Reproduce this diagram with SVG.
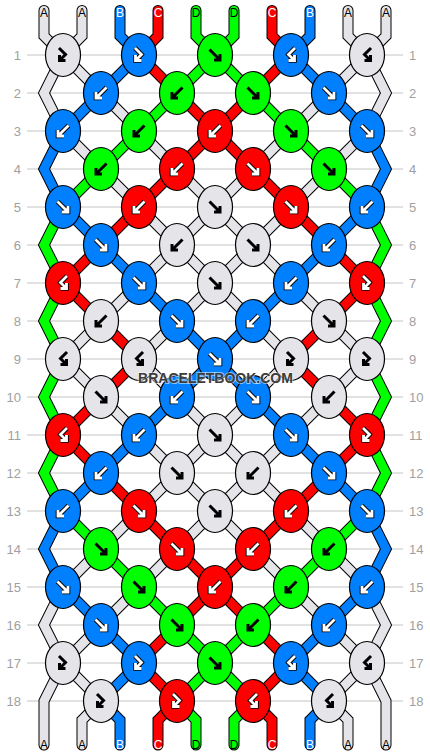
<svg xmlns="http://www.w3.org/2000/svg" width="430" height="756" viewBox="0 0 430 756">
<style>
.rows{stroke:#c4c4c4;stroke-width:1;fill:none}
.rl{font-family:"Liberation Sans",Arial,sans-serif;font-size:13px;fill:#a0a0a0}
.rl.l{text-anchor:end}
.sl{font-family:"Liberation Sans",Arial,sans-serif;font-size:12px;text-anchor:middle}
.dk{fill:#000}.lt{fill:#fff}
.k{stroke:#000;stroke-width:1.2}
.kA{fill:#e5e4e9}.kB{fill:#0080ff}.kC{fill:#ff0000}.kD{fill:#00ff00}
.wm{font-family:"Liberation Sans",Arial,sans-serif;font-weight:bold;font-size:14px;fill:#3c3c3c;text-anchor:middle;stroke:#ffffff;stroke-opacity:0.55;stroke-width:2;paint-order:stroke}
</style>
<defs>
<path id="pf" fill="none" d="M-5.5,-5.5L3.5,3.5M5,-1V5H-1"/>
<path id="pb" fill="none" d="M5.5,-5.5L-3.5,3.5M-5,-1V5H1"/>
<path id="pfb" fill="none" d="M-4,-7L2.5,-0.5L-2.5,4.5M-3.5,0V5.5H2.5"/>
<path id="pbf" fill="none" d="M4,-7L-2.5,-0.5L2.5,4.5M3.5,0V5.5H-2.5"/>
<g id="kf"><use href="#pf" stroke="#000" stroke-width="3"/></g>
<g id="kb"><use href="#pb" stroke="#000" stroke-width="3"/></g>
<g id="kfb"><use href="#pfb" stroke="#000" stroke-width="3"/></g>
<g id="kbf"><use href="#pbf" stroke="#000" stroke-width="3"/></g>
<g id="wf"><use href="#pf" stroke="#000" stroke-width="4.6"/><use href="#pf" stroke="#fff" stroke-width="2.8"/></g>
<g id="wb"><use href="#pb" stroke="#000" stroke-width="4.6"/><use href="#pb" stroke="#fff" stroke-width="2.8"/></g>
<g id="wfb"><use href="#pfb" stroke="#000" stroke-width="4.6"/><use href="#pfb" stroke="#fff" stroke-width="2.8"/></g>
<g id="wbf"><use href="#pbf" stroke="#000" stroke-width="4.6"/><use href="#pbf" stroke="#fff" stroke-width="2.8"/></g>
</defs>
<rect width="430" height="756" fill="#fff"/>
<path class="rows" d="M27,55H403M27,93H403M27,131H403M27,169H403M27,207H403M27,245H403M27,283H403M27,321H403M27,359H403M27,397H403M27,435H403M27,473H403M27,511H403M27,549H403M27,587H403M27,625H403M27,663H403M27,701H403"/>
<g id="row-labels">
<text class="rl l" x="21" y="60">1</text><text class="rl" x="409" y="60">1</text>
<text class="rl l" x="21" y="98">2</text><text class="rl" x="409" y="98">2</text>
<text class="rl l" x="21" y="136">3</text><text class="rl" x="409" y="136">3</text>
<text class="rl l" x="21" y="174">4</text><text class="rl" x="409" y="174">4</text>
<text class="rl l" x="21" y="212">5</text><text class="rl" x="409" y="212">5</text>
<text class="rl l" x="21" y="250">6</text><text class="rl" x="409" y="250">6</text>
<text class="rl l" x="21" y="288">7</text><text class="rl" x="409" y="288">7</text>
<text class="rl l" x="21" y="326">8</text><text class="rl" x="409" y="326">8</text>
<text class="rl l" x="21" y="364">9</text><text class="rl" x="409" y="364">9</text>
<text class="rl l" x="21" y="402">10</text><text class="rl" x="409" y="402">10</text>
<text class="rl l" x="21" y="440">11</text><text class="rl" x="409" y="440">11</text>
<text class="rl l" x="21" y="478">12</text><text class="rl" x="409" y="478">12</text>
<text class="rl l" x="21" y="516">13</text><text class="rl" x="409" y="516">13</text>
<text class="rl l" x="21" y="554">14</text><text class="rl" x="409" y="554">14</text>
<text class="rl l" x="21" y="592">15</text><text class="rl" x="409" y="592">15</text>
<text class="rl l" x="21" y="630">16</text><text class="rl" x="409" y="630">16</text>
<text class="rl l" x="21" y="668">17</text><text class="rl" x="409" y="668">17</text>
<text class="rl l" x="21" y="706">18</text><text class="rl" x="409" y="706">18</text>
</g>
<g id="connectors" fill="none" stroke-linecap="round" stroke-linejoin="miter" stroke-miterlimit="10">
<g stroke="#000" stroke-width="11">
<use href="#s0"/><use href="#s1"/><use href="#s2"/><use href="#s3"/><use href="#s4"/><use href="#s5"/><use href="#s6"/><use href="#s7"/><use href="#s8"/><use href="#s9"/>
</g>
<g stroke-width="9">
<g stroke="#e5e4e9">
<path id="s0" d="M44,10.5V36L63,55L44,93L63,131L101,169L139,207L177,245L215,283L253,321L291,359L253,397L215,435L177,473L139,511L101,549L63,587L44,625L63,663L44,701V745"/>
<path id="s1" d="M82,10.5V36L63,55L101,93L139,131L177,169L215,207L253,245L291,283L329,321L367,359L329,397L291,435L253,473L215,511L177,549L139,587L101,625L63,663L101,701L82,720V745"/>
<path id="s8" d="M348,10.5V36L367,55L329,93L291,131L253,169L215,207L177,245L139,283L101,321L63,359L101,397L139,435L177,473L215,511L253,549L291,587L329,625L367,663L329,701L348,720V745"/>
<path id="s9" d="M386,10.5V36L367,55L386,93L367,131L329,169L291,207L253,245L215,283L177,321L139,359L177,397L215,435L253,473L291,511L329,549L367,587L386,625L367,663L386,701V745"/>
</g>
<g stroke="#0080ff">
<path id="s2" d="M120,10.5V36L139,55L101,93L63,131L44,169L63,207L101,245L139,283L177,321L215,359L253,397L291,435L329,473L367,511L386,549L367,587L329,625L291,663L329,701L310,720V745"/>
<path id="s7" d="M310,10.5V36L291,55L329,93L367,131L386,169L367,207L329,245L291,283L253,321L215,359L177,397L139,435L101,473L63,511L44,549L63,587L101,625L139,663L101,701L120,720V745"/>
</g>
<g stroke="#ff0000">
<path id="s3" d="M158,10.5V36L139,55L177,93L215,131L253,169L291,207L329,245L367,283L329,321L291,359L329,397L367,435L329,473L291,511L253,549L215,587L177,625L139,663L177,701L158,720V745"/>
<path id="s6" d="M272,10.5V36L291,55L253,93L215,131L177,169L139,207L101,245L63,283L101,321L139,359L101,397L63,435L101,473L139,511L177,549L215,587L253,625L291,663L253,701L272,720V745"/>
</g>
<g stroke="#00ff00">
<path id="s4" d="M196,10.5V36L215,55L253,93L291,131L329,169L367,207L386,245L367,283L386,321L367,359L386,397L367,435L386,473L367,511L329,549L291,587L253,625L215,663L177,701L196,720V745"/>
<path id="s5" d="M234,10.5V36L215,55L177,93L139,131L101,169L63,207L44,245L63,283L44,321L63,359L44,397L63,435L44,473L63,511L101,549L139,587L177,625L215,663L253,701L234,720V745"/>
</g>
</g>
</g>
<g id="string-labels">
<text class="sl dk" x="44" y="16.7">A</text><text class="sl dk" x="82" y="16.7">A</text><text class="sl lt" x="120" y="16.7">B</text><text class="sl lt" x="158" y="16.7">C</text><text class="sl dk" x="196" y="16.7">D</text><text class="sl dk" x="234" y="16.7">D</text><text class="sl lt" x="272" y="16.7">C</text><text class="sl lt" x="310" y="16.7">B</text><text class="sl dk" x="348" y="16.7">A</text><text class="sl dk" x="386" y="16.7">A</text>
<text class="sl dk" x="44" y="748.6">A</text><text class="sl dk" x="82" y="748.6">A</text><text class="sl lt" x="120" y="748.6">B</text><text class="sl lt" x="158" y="748.6">C</text><text class="sl dk" x="196" y="748.6">D</text><text class="sl dk" x="234" y="748.6">D</text><text class="sl lt" x="272" y="748.6">C</text><text class="sl lt" x="310" y="748.6">B</text><text class="sl dk" x="348" y="748.6">A</text><text class="sl dk" x="386" y="748.6">A</text>
</g>
<g id="knots">
<g id="k1-1" transform="translate(63,55)"><ellipse class="k kA" rx="17.5" ry="21.5"/><use href="#kfb"/></g>
<g id="k1-2" transform="translate(139,55)"><ellipse class="k kB" rx="17.5" ry="21.5"/><use href="#wfb"/></g>
<g id="k1-3" transform="translate(215,55)"><ellipse class="k kD" rx="17.5" ry="21.5"/><use href="#kf"/></g>
<g id="k1-4" transform="translate(291,55)"><ellipse class="k kB" rx="17.5" ry="21.5"/><use href="#wbf"/></g>
<g id="k1-5" transform="translate(367,55)"><ellipse class="k kA" rx="17.5" ry="21.5"/><use href="#kbf"/></g>
<g id="k2-1" transform="translate(101,93)"><ellipse class="k kB" rx="17.5" ry="21.5"/><use href="#wb"/></g>
<g id="k2-2" transform="translate(177,93)"><ellipse class="k kD" rx="17.5" ry="21.5"/><use href="#kb"/></g>
<g id="k2-3" transform="translate(253,93)"><ellipse class="k kD" rx="17.5" ry="21.5"/><use href="#kf"/></g>
<g id="k2-4" transform="translate(329,93)"><ellipse class="k kB" rx="17.5" ry="21.5"/><use href="#wf"/></g>
<g id="k3-1" transform="translate(63,131)"><ellipse class="k kB" rx="17.5" ry="21.5"/><use href="#wb"/></g>
<g id="k3-2" transform="translate(139,131)"><ellipse class="k kD" rx="17.5" ry="21.5"/><use href="#kb"/></g>
<g id="k3-3" transform="translate(215,131)"><ellipse class="k kC" rx="17.5" ry="21.5"/><use href="#wb"/></g>
<g id="k3-4" transform="translate(291,131)"><ellipse class="k kD" rx="17.5" ry="21.5"/><use href="#kf"/></g>
<g id="k3-5" transform="translate(367,131)"><ellipse class="k kB" rx="17.5" ry="21.5"/><use href="#wf"/></g>
<g id="k4-1" transform="translate(101,169)"><ellipse class="k kD" rx="17.5" ry="21.5"/><use href="#kb"/></g>
<g id="k4-2" transform="translate(177,169)"><ellipse class="k kC" rx="17.5" ry="21.5"/><use href="#wb"/></g>
<g id="k4-3" transform="translate(253,169)"><ellipse class="k kC" rx="17.5" ry="21.5"/><use href="#wf"/></g>
<g id="k4-4" transform="translate(329,169)"><ellipse class="k kD" rx="17.5" ry="21.5"/><use href="#kf"/></g>
<g id="k5-1" transform="translate(63,207)"><ellipse class="k kB" rx="17.5" ry="21.5"/><use href="#wf"/></g>
<g id="k5-2" transform="translate(139,207)"><ellipse class="k kC" rx="17.5" ry="21.5"/><use href="#wb"/></g>
<g id="k5-3" transform="translate(215,207)"><ellipse class="k kA" rx="17.5" ry="21.5"/><use href="#kf"/></g>
<g id="k5-4" transform="translate(291,207)"><ellipse class="k kC" rx="17.5" ry="21.5"/><use href="#wf"/></g>
<g id="k5-5" transform="translate(367,207)"><ellipse class="k kB" rx="17.5" ry="21.5"/><use href="#wb"/></g>
<g id="k6-1" transform="translate(101,245)"><ellipse class="k kB" rx="17.5" ry="21.5"/><use href="#wf"/></g>
<g id="k6-2" transform="translate(177,245)"><ellipse class="k kA" rx="17.5" ry="21.5"/><use href="#kb"/></g>
<g id="k6-3" transform="translate(253,245)"><ellipse class="k kA" rx="17.5" ry="21.5"/><use href="#kf"/></g>
<g id="k6-4" transform="translate(329,245)"><ellipse class="k kB" rx="17.5" ry="21.5"/><use href="#wb"/></g>
<g id="k7-1" transform="translate(63,283)"><ellipse class="k kC" rx="17.5" ry="21.5"/><use href="#wbf"/></g>
<g id="k7-2" transform="translate(139,283)"><ellipse class="k kB" rx="17.5" ry="21.5"/><use href="#wf"/></g>
<g id="k7-3" transform="translate(215,283)"><ellipse class="k kA" rx="17.5" ry="21.5"/><use href="#kf"/></g>
<g id="k7-4" transform="translate(291,283)"><ellipse class="k kB" rx="17.5" ry="21.5"/><use href="#wb"/></g>
<g id="k7-5" transform="translate(367,283)"><ellipse class="k kC" rx="17.5" ry="21.5"/><use href="#wfb"/></g>
<g id="k8-1" transform="translate(101,321)"><ellipse class="k kA" rx="17.5" ry="21.5"/><use href="#kb"/></g>
<g id="k8-2" transform="translate(177,321)"><ellipse class="k kB" rx="17.5" ry="21.5"/><use href="#wf"/></g>
<g id="k8-3" transform="translate(253,321)"><ellipse class="k kB" rx="17.5" ry="21.5"/><use href="#wb"/></g>
<g id="k8-4" transform="translate(329,321)"><ellipse class="k kA" rx="17.5" ry="21.5"/><use href="#kf"/></g>
<g id="k9-1" transform="translate(63,359)"><ellipse class="k kA" rx="17.5" ry="21.5"/><use href="#kbf"/></g>
<g id="k9-2" transform="translate(139,359)"><ellipse class="k kA" rx="17.5" ry="21.5"/><use href="#kbf"/></g>
<g id="k9-3" transform="translate(215,359)"><ellipse class="k kB" rx="17.5" ry="21.5"/><use href="#wf"/></g>
<g id="k9-4" transform="translate(291,359)"><ellipse class="k kA" rx="17.5" ry="21.5"/><use href="#kfb"/></g>
<g id="k9-5" transform="translate(367,359)"><ellipse class="k kA" rx="17.5" ry="21.5"/><use href="#kfb"/></g>
<g id="k10-1" transform="translate(101,397)"><ellipse class="k kA" rx="17.5" ry="21.5"/><use href="#kf"/></g>
<g id="k10-2" transform="translate(177,397)"><ellipse class="k kB" rx="17.5" ry="21.5"/><use href="#wb"/></g>
<g id="k10-3" transform="translate(253,397)"><ellipse class="k kB" rx="17.5" ry="21.5"/><use href="#wf"/></g>
<g id="k10-4" transform="translate(329,397)"><ellipse class="k kA" rx="17.5" ry="21.5"/><use href="#kb"/></g>
<g id="k11-1" transform="translate(63,435)"><ellipse class="k kC" rx="17.5" ry="21.5"/><use href="#wbf"/></g>
<g id="k11-2" transform="translate(139,435)"><ellipse class="k kB" rx="17.5" ry="21.5"/><use href="#wb"/></g>
<g id="k11-3" transform="translate(215,435)"><ellipse class="k kA" rx="17.5" ry="21.5"/><use href="#kf"/></g>
<g id="k11-4" transform="translate(291,435)"><ellipse class="k kB" rx="17.5" ry="21.5"/><use href="#wf"/></g>
<g id="k11-5" transform="translate(367,435)"><ellipse class="k kC" rx="17.5" ry="21.5"/><use href="#wfb"/></g>
<g id="k12-1" transform="translate(101,473)"><ellipse class="k kB" rx="17.5" ry="21.5"/><use href="#wb"/></g>
<g id="k12-2" transform="translate(177,473)"><ellipse class="k kA" rx="17.5" ry="21.5"/><use href="#kf"/></g>
<g id="k12-3" transform="translate(253,473)"><ellipse class="k kA" rx="17.5" ry="21.5"/><use href="#kb"/></g>
<g id="k12-4" transform="translate(329,473)"><ellipse class="k kB" rx="17.5" ry="21.5"/><use href="#wf"/></g>
<g id="k13-1" transform="translate(63,511)"><ellipse class="k kB" rx="17.5" ry="21.5"/><use href="#wb"/></g>
<g id="k13-2" transform="translate(139,511)"><ellipse class="k kC" rx="17.5" ry="21.5"/><use href="#wf"/></g>
<g id="k13-3" transform="translate(215,511)"><ellipse class="k kA" rx="17.5" ry="21.5"/><use href="#kf"/></g>
<g id="k13-4" transform="translate(291,511)"><ellipse class="k kC" rx="17.5" ry="21.5"/><use href="#wb"/></g>
<g id="k13-5" transform="translate(367,511)"><ellipse class="k kB" rx="17.5" ry="21.5"/><use href="#wf"/></g>
<g id="k14-1" transform="translate(101,549)"><ellipse class="k kD" rx="17.5" ry="21.5"/><use href="#kf"/></g>
<g id="k14-2" transform="translate(177,549)"><ellipse class="k kC" rx="17.5" ry="21.5"/><use href="#wf"/></g>
<g id="k14-3" transform="translate(253,549)"><ellipse class="k kC" rx="17.5" ry="21.5"/><use href="#wb"/></g>
<g id="k14-4" transform="translate(329,549)"><ellipse class="k kD" rx="17.5" ry="21.5"/><use href="#kb"/></g>
<g id="k15-1" transform="translate(63,587)"><ellipse class="k kB" rx="17.5" ry="21.5"/><use href="#wf"/></g>
<g id="k15-2" transform="translate(139,587)"><ellipse class="k kD" rx="17.5" ry="21.5"/><use href="#kf"/></g>
<g id="k15-3" transform="translate(215,587)"><ellipse class="k kC" rx="17.5" ry="21.5"/><use href="#wb"/></g>
<g id="k15-4" transform="translate(291,587)"><ellipse class="k kD" rx="17.5" ry="21.5"/><use href="#kb"/></g>
<g id="k15-5" transform="translate(367,587)"><ellipse class="k kB" rx="17.5" ry="21.5"/><use href="#wb"/></g>
<g id="k16-1" transform="translate(101,625)"><ellipse class="k kB" rx="17.5" ry="21.5"/><use href="#wf"/></g>
<g id="k16-2" transform="translate(177,625)"><ellipse class="k kD" rx="17.5" ry="21.5"/><use href="#kf"/></g>
<g id="k16-3" transform="translate(253,625)"><ellipse class="k kD" rx="17.5" ry="21.5"/><use href="#kb"/></g>
<g id="k16-4" transform="translate(329,625)"><ellipse class="k kB" rx="17.5" ry="21.5"/><use href="#wb"/></g>
<g id="k17-1" transform="translate(63,663)"><ellipse class="k kA" rx="17.5" ry="21.5"/><use href="#kfb"/></g>
<g id="k17-2" transform="translate(139,663)"><ellipse class="k kB" rx="17.5" ry="21.5"/><use href="#wfb"/></g>
<g id="k17-3" transform="translate(215,663)"><ellipse class="k kD" rx="17.5" ry="21.5"/><use href="#kf"/></g>
<g id="k17-4" transform="translate(291,663)"><ellipse class="k kB" rx="17.5" ry="21.5"/><use href="#wbf"/></g>
<g id="k17-5" transform="translate(367,663)"><ellipse class="k kA" rx="17.5" ry="21.5"/><use href="#kbf"/></g>
<g id="k18-1" transform="translate(101,701)"><ellipse class="k kA" rx="17.5" ry="21.5"/><use href="#kfb"/></g>
<g id="k18-2" transform="translate(177,701)"><ellipse class="k kC" rx="17.5" ry="21.5"/><use href="#wfb"/></g>
<g id="k18-3" transform="translate(253,701)"><ellipse class="k kC" rx="17.5" ry="21.5"/><use href="#wbf"/></g>
<g id="k18-4" transform="translate(329,701)"><ellipse class="k kA" rx="17.5" ry="21.5"/><use href="#kbf"/></g>
</g>
<text class="wm" x="215.5" y="382.5">BRACELETBOOK.COM</text>
</svg>
